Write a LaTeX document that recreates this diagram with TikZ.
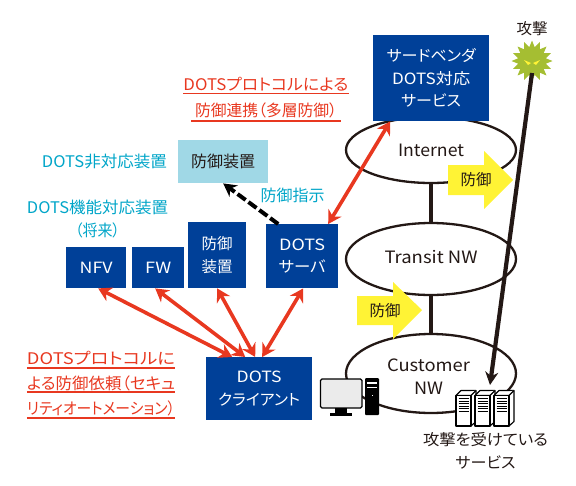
\documentclass[tikz,border=0pt]{standalone}
\usepackage{fontspec}
\usepackage{graphicx}
\setmainfont[RawFeature=+palt]{Noto Sans CJK JP}
\usetikzlibrary{arrows.meta,calc,shapes.geometric}
\definecolor{navy}{HTML}{004098}
\definecolor{lblue}{HTML}{A0D8E6}
\definecolor{cyanT}{HTML}{00A5C8}
\definecolor{redT}{HTML}{E83820}
\definecolor{yel}{HTML}{FFF335}
\definecolor{ink}{HTML}{231815}
\definecolor{germ}{HTML}{A5BE32}
\newcommand{\fitw}[2]{\resizebox{#1pt}{\height}{#2}}
\tikzset{
 x=1pt,y=-1pt,
 bluebox/.style={fill=navy,text=white,inner sep=0pt,align=center,font=\fontsize{15.5}{22.5}\selectfont,anchor=north west},
 net/.style={draw=ink,line width=2.3pt,fill=white,ellipse,inner sep=0pt},
 cloudtext/.style={text=ink,align=center,font=\fontsize{17}{23.5}\selectfont},
 redlabel/.style={text=redT,font=\fontsize{16}{20}\selectfont,inner sep=0pt},
 cyanlabel/.style={text=cyanT,font=\fontsize{16}{20}\selectfont,inner sep=0pt},
 blacklabel/.style={text=ink,font=\fontsize{15.5}{23}\selectfont,inner sep=0pt,align=center},
 redarrow/.style={draw=redT,line width=3.6pt,{Stealth[length=13pt,width=15pt]}-{Stealth[length=13pt,width=15pt]}},
 uline/.style={draw=redT,line width=1.5pt},
 link/.style={draw=ink,line width=3.4pt},
 yarrow/.style={fill=yel,draw=none},
 iconline/.style={draw=black,line width=1.1pt,fill=white,line join=round},
}
\newcommand{\bluenode}[6]{\node[bluebox,minimum width=#4pt,minimum height=#5pt] (#1) at (#2,#3) {#6};}
\begin{document}
\begin{tikzpicture}
\useasboundingbox (0,0) rectangle (576,485);
% networks
\node[net,minimum width=170pt,minimum height=66pt] (inet) at (431,150) {};
\node[net,minimum width=170pt,minimum height=72pt] (transit) at (431,259) {};
\node[net,minimum width=170pt,minimum height=79pt] (cust) at (431,373.5) {};
\draw[link] (inet.south) -- (transit.north);
\draw[link] (transit.south) -- (cust.north);
\node[cloudtext] (tInet) at (431,150) {\fitw{66}{Internet}};
\node[cloudtext] (tTransit) at (431,257) {\fitw{93}{Transit NW}};
\node[cloudtext] (tCust) at (428.5,376.5) {\fitw{83}{Customer}\\\fitw{29}{NW}};
% boxes
\bluenode{vendor}{373}{35}{116}{86}{\fitw{89}{サードベンダ}\\\fitw{78}{DOTS対応}\\\fitw{60}{サービス}}
\node[fill=lblue,minimum width=90pt,minimum height=43pt,inner sep=0pt,text=ink,font=\fontsize{16}{20}\selectfont,anchor=north west] (plain) at (178,140) {防御装置};
\bluenode{nfv}{66}{247}{60}{41}{\fitw{33}{NFV}}
\bluenode{fw}{132}{247}{52}{41}{\fitw{26}{FW}}
\bluenode{dev}{188}{222}{58}{66}{防御\\装置}
\bluenode{server}{266}{224}{72}{64}{\fitw{46}{DOTS}\\\fitw{47}{サーバ}}
\bluenode{client}{206}{357}{106}{63}{\fitw{45}{DOTS}\\\fitw{82}{クライアント}}
% yellow arrows
\fill[yarrow] (448,165) -- (484,165) -- (484,151) -- (513,180) -- (484,209) -- (484,195) -- (448,195) -- cycle;
\node[blacklabel] (y1) at (476,180) {防御};
\fill[yarrow] (357,296) -- (393,296) -- (393,282) -- (422,310) -- (393,339) -- (393,325) -- (357,325) -- cycle;
\node[blacklabel] (y2) at (385,311) {防御};
% germ
\coordinate (germc) at (532,61);
\fill[germ] ($(germc)+(0:20.5)$)
 \foreach \i in {1,...,31} { -- ($(germc)+(\i*11.25:{mod(\i,2)==0 ? 20.5 : 14})$) } -- cycle;
\fill[yel] (524,60) -- (531,63) -- (528,65) -- cycle;
\fill[yel] (540,60) -- (533,63) -- (536,65) -- cycle;
\node[blacklabel] (atk) at (532,29) {攻撃};
% attack
\coordinate (atkEnd) at (490,385);
\draw[draw=ink,line width=4.2pt,-{Stealth[length=13pt,width=13pt]}] (germc) ++(0,12) -- (atkEnd);
% red arrows
\draw[redarrow] ([xshift=2pt]nfv.south) -- ([xshift=-27pt]client.north);
\draw[redarrow] ([xshift=-3pt]fw.south) -- ([xshift=-14pt]client.north);
\draw[redarrow] ([xshift=0pt]dev.south) -- ([xshift=-4pt]client.north);
\draw[redarrow] ([xshift=1pt]server.south) -- ([xshift=3pt]client.north);
\draw[redarrow] ([xshift=-41pt]vendor.south) -- ([xshift=26pt]server.north);
% dashed
\draw[draw=black,line width=4pt,dash pattern=on 10pt off 3.5pt,-{Stealth[length=13pt,width=14pt]}] ([xshift=-24pt]server.north) -- ([xshift=0pt]plain.south);
% labels
\node[cyanlabel] (c1) at (104.5,162) {\fitw{125}{DOTS非対応装置}};
\node[cyanlabel] (c2) at (97.5,207) {\fitw{141}{DOTS機能対応装置}};
\node[cyanlabel] (c3) at (97.5,230) {\fitw{45}{（将来）}};
\node[cyanlabel] (c4) at (292.5,195) {防御指示};
\node[redlabel] (r1) at (266,84) {\fitw{165}{DOTSプロトコルによる}};
\node[redlabel] (r2) at (266,110) {\fitw{142}{防御連携（多層防御）}};
\draw[uline] (r1.west |- 0,93.5) -- (r1.east |- 0,93.5);
\draw[uline] (191,121) -- (341,121);
\node[redlabel] (l1) at (101,358) {\fitw{148}{DOTSプロトコルに}};
\node[redlabel] (l2) at (101,383) {\fitw{148}{よる防御依頼（セキュ}};
\node[redlabel] (l3) at (101,408) {\fitw{148}{リティオートメーション）}};
\draw[uline] (l1.west |- 0,368) -- (l1.east |- 0,368);
\draw[uline] (l2.west |- 0,392) -- (l2.east |- 0,392);
\draw[uline] (l3.west |- 0,418) -- (l3.east |- 0,418);
% PC
\draw[draw=black,line width=1.3pt,fill=black!8,rounded corners=1.5pt] (320.5,379) rectangle (362,408);
\fill[black] (335,408) rectangle (347,413);
\fill[black] (330,413) rectangle (352,415.5);
\fill[black,rounded corners=1pt] (365,378) rectangle (379,415);
\fill[white] (367,382) rectangle (377,384);
\fill[white] (367,386.5) rectangle (377,388);
\fill[white] (371.5,395) rectangle (372.5,396);
% servers
\foreach \sx in {456,475,494}{
 \draw[iconline] (\sx,395.5) -- ++(5,-5) -- ++(15,0) -- ++(0,31) -- ++(-5,4.5) -- cycle;
 \draw[iconline] (\sx,395.5) -- ++(15,0) -- ++(5,-5);
 \draw[iconline] (\sx+15,395.5) -- ++(0,30.5);
 \draw[iconline] (\sx,395.5) rectangle ++(15,30.5);
 \foreach \ly in {398.5,401,403.5,406,408.5,411}{ \draw[black,line width=0.7pt] (\sx+2.5,\ly) -- ++(10,0); }
}
\node[blacklabel] (svc) at (485.5,450.5) {\fitw{125}{攻撃を受けている}\\\fitw{60}{サービス}};
\end{tikzpicture}
\end{document}
